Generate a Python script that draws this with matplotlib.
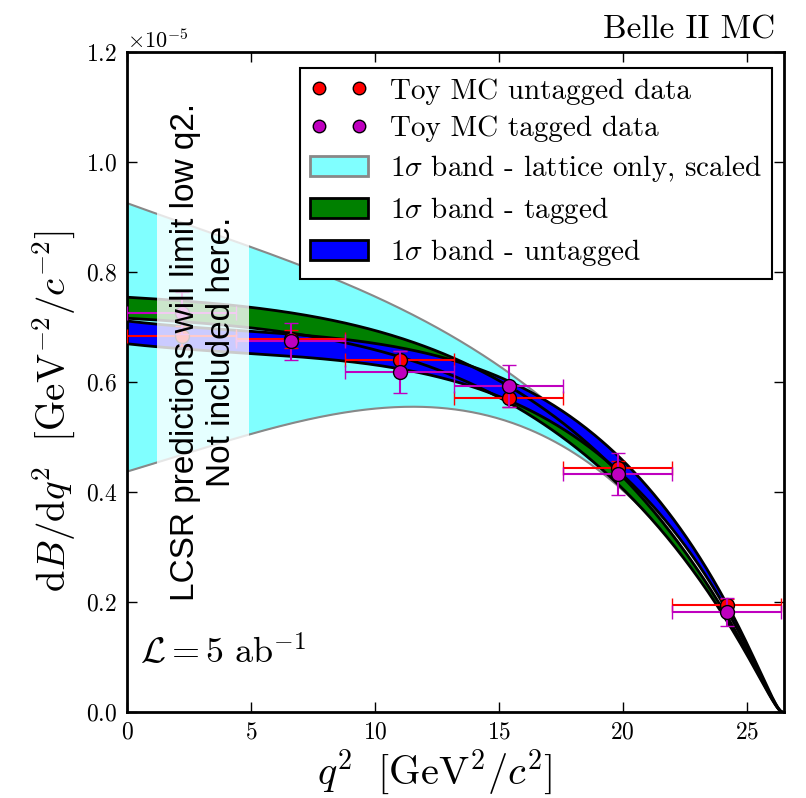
import numpy as np
import matplotlib
matplotlib.use("Agg")
import matplotlib.pyplot as plt
from matplotlib.lines import Line2D
from matplotlib.patches import Patch

plt.rcParams['font.family'] = 'serif'
plt.rcParams['font.serif'] = ['cmr10', 'DejaVu Serif']
plt.rcParams['mathtext.fontset'] = 'cm'
plt.rcParams['axes.formatter.use_mathtext'] = True
plt.rcParams['axes.unicode_minus'] = False

# ---- data (units of 1e-5) ----
q2_centers = [2.2, 6.6, 11.0, 15.4, 19.8, 24.2]
q2_halfwidth = [2.2, 2.2, 2.2, 2.2, 2.2, 2.2]
untagged_y = [0.684, 0.678, 0.640, 0.571, 0.444, 0.194]
untagged_yerr = [0.018, 0.017, 0.016, 0.016, 0.012, 0.011]
tagged_y = [0.726, 0.674, 0.618, 0.593, 0.433, 0.182]
tagged_yerr = [0.038, 0.034, 0.038, 0.038, 0.038, 0.026]

# ---- fit-model parameters for bands (form-factor shape polynomials) ----
m_B, m_pi, m_Bstar = 5.2797, 0.13957, 5.325
lattice_upper_coef = [0.2245, 0.002198, 9.87e-5, 0.0]
lattice_lower_coef = [0.1543, 0.005266, 1.4785e-4, -2.7e-6]
untagged_coef = [0.1939, 0.0029, 1.5e-4, 0.0]
tagged_coef = [0.2001, 0.003381, 8.6e-5, 0.0]
untagged_relwidth = 0.030
tagged_relwidth = 0.026

q2max = (m_B - m_pi) ** 2
q = np.linspace(0, q2max, 400)


def rate(coef):
    lam = (m_B**2 + m_pi**2 - q) ** 2 - 4 * m_B**2 * m_pi**2
    p = np.sqrt(np.clip(lam, 0, None)) / (2 * m_B)
    h = coef[0] + coef[1] * q + coef[2] * q**2 + coef[3] * q**3
    pole = 1.0 / (1.0 - q / m_Bstar**2)
    return p**3 * (h * pole) ** 2


S = 1e-5
lat_up = rate(lattice_upper_coef) * S
lat_lo = rate(lattice_lower_coef) * S
unt_c = rate(untagged_coef) * S
tag_c = rate(tagged_coef) * S
unt_up, unt_lo = unt_c * (1 + untagged_relwidth), unt_c * (1 - untagged_relwidth)
tag_up, tag_lo = tag_c * (1 + tagged_relwidth), tag_c * (1 - tagged_relwidth)

fig = plt.figure(figsize=(8.06, 7.98), dpi=100)
ax = fig.add_axes([0.1576, 0.1078, 0.8150, 0.8270])

ax.fill_between(q, lat_lo, lat_up, color='#80ffff', lw=0, zorder=1)
ax.plot(q, lat_up, color='#888888', lw=1.5, zorder=1.5)
ax.plot(q, lat_lo, color='#888888', lw=1.5, zorder=1.5)
ax.fill_between(q, tag_lo, tag_up, color='green', lw=0, zorder=2)
ax.fill_between(q, unt_lo, unt_up, color='blue', lw=0, zorder=2.1)
for c in (tag_up, tag_lo, unt_up, unt_lo):
    ax.plot(q, c, color='black', lw=2, zorder=2.5)

ax.errorbar(q2_centers, np.array(untagged_y) * S, xerr=q2_halfwidth,
            yerr=np.array(untagged_yerr) * S, fmt='o', color='red', ecolor='red',
            mec='black', mew=1, ms=10, elinewidth=1.5, capsize=5, capthick=1.5, zorder=3)
ax.errorbar(q2_centers, np.array(tagged_y) * S, xerr=q2_halfwidth,
            yerr=np.array(tagged_yerr) * S, fmt='o', color='m', ecolor='m',
            mec='black', mew=1, ms=10, elinewidth=1.5, capsize=5, capthick=1.5, zorder=3.1)

ax.set_xlim(0, 26.5)
ax.set_ylim(0, 1.2e-5)
ax.set_xticks([0, 5, 10, 15, 20, 25])
ax.set_yticks(np.arange(0, 1.21, 0.2) * 1e-5)
ax.tick_params(direction='in', top=True, right=True, labelsize=17, length=7, width=1, pad=7)
ax.yaxis.get_offset_text().set_fontsize(16)
for s in ax.spines.values():
    s.set_linewidth(2)

ax.set_xlabel(r'$q^2\ \ [\mathrm{GeV}^2/c^2]$', fontsize=29)
ax.set_ylabel(r'$\mathrm{d}B/\mathrm{d}q^2\ \ [\mathrm{GeV}^{-2}/c^{-2}]$', fontsize=28)
ax.xaxis.set_label_coords(0.469, -0.054)
ax.yaxis.set_label_coords(-0.074, 0.455)

ax.text(0.987, 1.012, 'Belle II MC', transform=ax.transAxes, ha='right', va='bottom', fontsize=24)
ax.text(0.02, 0.09, r'$\mathcal{L} = 5\ \mathrm{ab}^{-1}$', transform=ax.transAxes,
        ha='left', va='center', fontsize=26)
ax.text(3.08, 0.655e-5, 'LCSR predictions will limit low q2.\nNot included here.',
        rotation=90, ha='center', va='center', fontsize=24, family='Liberation Sans',
        multialignment='center', zorder=5,
        bbox=dict(facecolor='white', edgecolor='none', alpha=0.8, pad=9))

handles = [
    Line2D([], [], ls='none', marker='o', color='red', mec='black', ms=9),
    Line2D([], [], ls='none', marker='o', color='m', mec='black', ms=9),
    Patch(facecolor='#80ffff', edgecolor='#888888', lw=2),
    Patch(facecolor='green', edgecolor='black', lw=2),
    Patch(facecolor='blue', edgecolor='black', lw=2),
]
labels = ['Toy MC untagged data', 'Toy MC tagged data',
          r'$1\sigma$ band - lattice only, scaled', r'$1\sigma$ band - tagged',
          r'$1\sigma$ band - untagged']
leg = ax.legend(handles, labels, loc='upper right', bbox_to_anchor=(0.982, 0.976),
                borderaxespad=0, fontsize=21, numpoints=2, fancybox=False,
                framealpha=1, edgecolor='black', handlelength=2.0,
                labelspacing=0.38, borderpad=0.35, handletextpad=0.75)
leg.get_frame().set_linewidth(1.5)
leg.set_zorder(6)

fig.savefig('out.png', dpi=100)
